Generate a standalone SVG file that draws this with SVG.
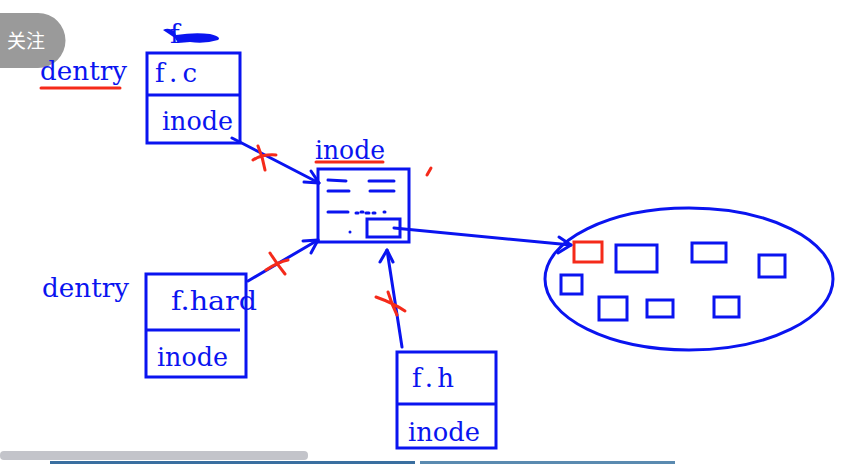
<svg xmlns="http://www.w3.org/2000/svg" width="848" height="464" viewBox="0 0 848 464">
<defs>
<style>
.b{fill:none;stroke:#0a14f0;stroke-width:3}
.r{fill:none;stroke:#f52a1a;stroke-width:3;stroke-linecap:round}
.t{font-family:"DejaVu Serif","Liberation Serif",serif;font-size:26px;fill:#0a14f0}
.ln{fill:none;stroke:#0a14f0;stroke-width:3;stroke-linecap:round}
.hd{fill:none;stroke:#0a14f0;stroke-width:3;stroke-linecap:round;stroke-linejoin:round}
</style>
</defs>
<rect width="848" height="464" fill="#ffffff"/>

<g id="follow">
<path d="M0 13 H38 A27 27 0 0 1 38 68 H0 Z" fill="#9a9a9a"/>
<text x="7" y="48" font-family="'Noto Sans CJK SC',sans-serif" font-size="19" fill="#ffffff">关注</text>
</g>

<g id="scribble">
<text class="t" x="170" y="43" font-size="24">f</text>
<path d="M163 30 Q168 27 174 31 L176 35 Q195 32 210 34 Q222 37 218 40 Q205 44 190 42 L178 43 L175 38 Z" fill="#0a14f0"/>
</g>

<g id="dentry1">
<text class="t" x="40" y="80" textLength="87" lengthAdjust="spacingAndGlyphs">dentry</text>
<line class="r" x1="41" y1="88" x2="120" y2="88"/>
</g>

<g id="fc">
<rect class="b" x="147" y="53" width="93" height="90"/>
<line class="b" x1="147" y1="95" x2="240" y2="95"/>
<text class="t" x="155" y="82" textLength="42">f.c</text>
<text class="t" x="162" y="130" textLength="71" lengthAdjust="spacingAndGlyphs">inode</text>
</g>

<g id="inodeLabel">
<text class="t" x="315" y="159" textLength="70" lengthAdjust="spacingAndGlyphs">inode</text>
<line class="r" x1="316" y1="162" x2="383" y2="162"/>
</g>

<g id="inode">
<rect class="b" x="318" y="169" width="91" height="73"/>
<line class="ln" x1="328" y1="180" x2="346" y2="181"/>
<line class="ln" x1="369" y1="181" x2="394" y2="181"/>
<line class="ln" x1="328" y1="191" x2="349" y2="191"/>
<line class="ln" x1="370" y1="191" x2="394" y2="191"/>
<line class="ln" x1="328" y1="212" x2="348" y2="212"/>
<path d="M356 213 h2 M361 212 h2 M366 213 h3 M373 213 h2 M384 212 h1" class="ln"/>
<circle cx="350" cy="232" r="1.5" fill="#0a14f0"/>
<rect class="b" x="367" y="219" width="33" height="18"/>
</g>
<path id="tick" class="r" d="M431 168 L427 175"/>

<g id="fhard">
<text class="t" x="42" y="297" textLength="87" lengthAdjust="spacingAndGlyphs">dentry</text>
<rect class="b" x="146" y="274" width="100" height="103"/>
<line class="b" x1="146" y1="330" x2="240" y2="330"/>
<text class="t" x="171" y="310" textLength="86" lengthAdjust="spacingAndGlyphs">f.hard</text>
<text class="t" x="157" y="366" textLength="71" lengthAdjust="spacingAndGlyphs">inode</text>
</g>

<g id="fh">
<rect class="b" x="397" y="352" width="99" height="96"/>
<line class="b" x1="397" y1="404" x2="497" y2="404"/>
<text class="t" x="412" y="387" textLength="42">f.h</text>
<text class="t" x="408" y="441" textLength="72" lengthAdjust="spacingAndGlyphs">inode</text>
</g>

<g id="blocks">
<ellipse class="b" cx="689" cy="279" rx="144" ry="71"/>
<rect x="574" y="242" width="28" height="20" fill="none" stroke="#f52a1a" stroke-width="3"/>
<rect class="b" x="616" y="245" width="41" height="27"/>
<rect class="b" x="692" y="243" width="34" height="19"/>
<rect class="b" x="759" y="255" width="26" height="22"/>
<rect class="b" x="561" y="275" width="21" height="19"/>
<rect class="b" x="599" y="297" width="28" height="23"/>
<rect class="b" x="647" y="300" width="26" height="17"/>
<rect class="b" x="714" y="297" width="25" height="20"/>
</g>

<g id="connectors">
<line class="ln" x1="232" y1="138" x2="319" y2="183"/>
<path class="hd" d="M304 182 L319 183 L311 171"/>
<line class="ln" x1="248" y1="281" x2="318" y2="240"/>
<path class="hd" d="M303 241 L318 240 L311 253"/>
<line class="ln" x1="402" y1="347" x2="387" y2="250"/>
<path class="hd" d="M380 262 L387 250 L393 262"/>
<line class="ln" x1="394" y1="228" x2="571" y2="245"/>
<path class="hd" d="M559 237 L571 245 L558 253"/>
<path class="r" d="M258 146 Q263 158 265 170 M253 160 Q262 154 276 155"/>
<path class="r" d="M270 253 Q277 264 285 274 M266 270 Q278 262 288 260"/>
<path class="r" d="M376 297 Q393 303 405 311 M388 292 Q392 305 397 315"/>
</g>

<g id="taskbar">
<rect x="0" y="451" width="308" height="9" rx="4" fill="#c3c4ca"/>
<rect x="50" y="461" width="365" height="3" fill="#3a6fa0"/>
<rect x="420" y="461" width="255" height="3" fill="#5a8ab0"/>
</g>
</svg>
